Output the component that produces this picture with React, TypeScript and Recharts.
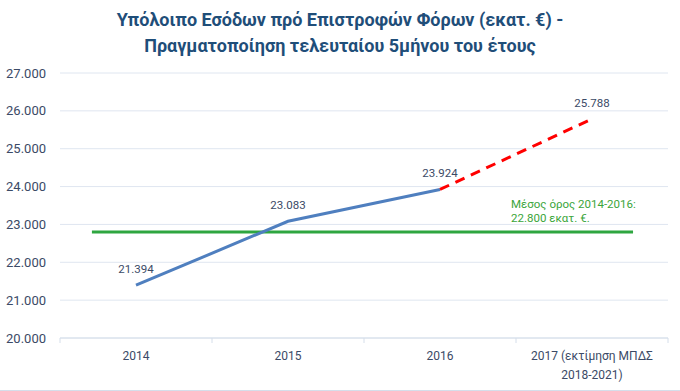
import React from 'react';
import { LineChart, Line, XAxis, YAxis, CartesianGrid, ReferenceLine, LabelList } from 'recharts';

const categories = ['2014', '2015', '2016', '2017 (εκτίμηση ΜΠΔΣ|2018-2021)'];
const actualValues = [21394, 23083, 23924, null];
const estimateValues = [null, null, 23924, 25788];
const averageValue = 22800;
const averageLabel = ['Μέσος όρος 2014-2016:', '22.800 εκατ. €.'];
const yTicks = [20000, 21000, 22000, 23000, 24000, 25000, 26000, 27000];

const data = categories.map((c, i) => ({
  x: i,
  name: c,
  actual: actualValues[i],
  estimate: estimateValues[i],
}));

const xTicks = [-0.5, 0, 0.5, 1, 1.5, 2, 2.5, 3, 3.5];

const fmt = (v: number) => v.toLocaleString('de-DE');
const FONT = 'Roboto, "Open Sans", sans-serif';
const TEXT = '#3b4a66';

const XTick: React.FC<any> = ({ x, y, payload }) => {
  const v = payload.value;
  if (!Number.isInteger(v)) {
    return <line x1={x} x2={x} y1={y} y2={y + 5} stroke="#d5deea" strokeWidth={1} />;
  }
  const lines = categories[v].split('|');
  return (
    <text x={x} y={y + 22} textAnchor="middle" fill={TEXT} fontSize={12} fontFamily={FONT}>
      {lines.map((l, i) => (
        <tspan key={i} x={x} dy={i === 0 ? 0 : 19}>{l}</tspan>
      ))}
    </text>
  );
};

const AvgLabel: React.FC<any> = ({ viewBox }) => {
  const { x, y, width } = viewBox;
  const tx = x + width - 122;
  return (
    <text x={tx} y={y - 24} fill="#3aa53a" fontSize={11.5} fontFamily={FONT}>
      <tspan x={tx}>{averageLabel[0]}</tspan>
      <tspan x={tx} dy={14}>{averageLabel[1]}</tspan>
    </text>
  );
};

export default function App() {
  return (
    <div style={{ position: 'absolute', left: 0, top: 0, width: 680, height: 391, background: '#fff', borderBottom: '1px solid #d5deea', boxSizing: 'border-box' }}>
      <div style={{ position: 'absolute', top: 7, left: 0, width: 680, textAlign: 'center', color: '#1f4e79', fontFamily: FONT, fontWeight: 700, fontSize: 18, lineHeight: '26px' }}>
        Υπόλοιπο Εσόδων πρό Επιστροφών Φόρων (εκατ. €) -<br />
        Πραγματοποίηση τελευταίου 5μήνου του έτους
      </div>
      <LineChart width={680} height={390} data={data} margin={{ top: 73, right: 12, bottom: 0, left: 0 }}>
        <CartesianGrid vertical={false} stroke="#dfe6f0" />
        <XAxis
          dataKey="x"
          type="number"
          domain={[-0.5, 3.5]}
          ticks={xTicks}
          interval={0}
          tick={<XTick />}
          tickLine={false}
          tickSize={0}
          tickMargin={0}
          height={52}
          axisLine={{ stroke: '#d5deea' }}
        />
        <YAxis
          domain={[20000, 27000]}
          ticks={yTicks}
          tickFormatter={fmt}
          axisLine={false}
          tickLine={false}
          tickSize={0}
          tickMargin={14}
          width={60}
          tick={{ fill: TEXT, fontSize: 13, fontFamily: FONT }}
        />
        <ReferenceLine
          segment={[{ x: -0.29, y: averageValue }, { x: 3.27, y: averageValue }]}
          stroke="#2ea640"
          strokeWidth={3}
          label={<AvgLabel />}
        />
        <Line
          dataKey="actual"
          stroke="#4f7fbf"
          strokeWidth={3}
          dot={false}
          isAnimationActive={false}
          connectNulls={false}
        >
          <LabelList dataKey="actual" position="top" offset={12} formatter={(v: any) => (v == null ? '' : fmt(v))} fill={TEXT} fontSize={11.5} fontFamily={FONT} />
        </Line>
        <Line
          dataKey="estimate"
          stroke="#ff0000"
          strokeWidth={3}
          strokeDasharray="10 7"
          dot={false}
          isAnimationActive={false}
          connectNulls={false}
        >
          <LabelList dataKey="estimate" position="top" offset={12} formatter={(v: any) => (v == null || v === 23924 ? '' : fmt(v))} fill={TEXT} fontSize={11.5} fontFamily={FONT} />
        </Line>
      </LineChart>
    </div>
  );
}
